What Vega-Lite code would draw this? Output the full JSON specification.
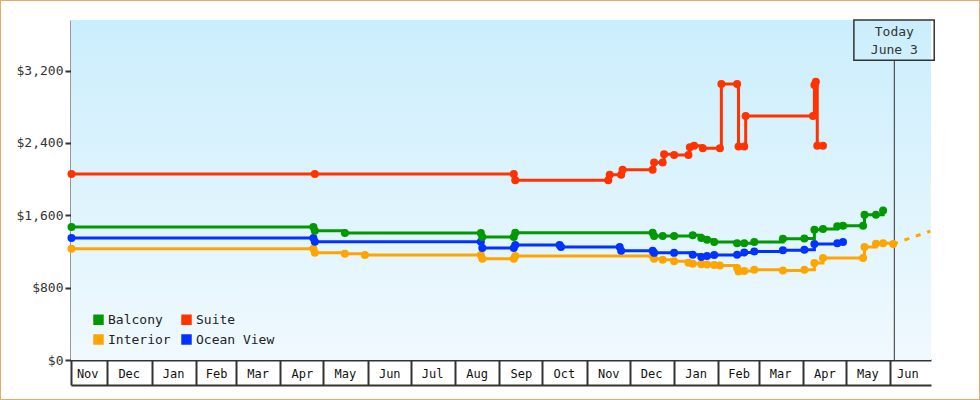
{
  "$schema": "https://vega.github.io/schema/vega-lite/v6.json",
  "width": 980,
  "height": 400,
  "autosize": {"type": "none"},
  "padding": 0,
  "background": "#FFFFFF",
  "config": {
    "font": "DejaVu Sans Mono",
    "view": {"stroke": "#E8A866", "strokeWidth": 2},
    "legend": {
      "orient": "none", "legendX": 92, "legendY": 313, "columns": 2, "direction": "horizontal", "title": null,
      "symbolType": "square", "symbolSize": 110, "symbolStrokeWidth": 0,
      "labelFontSize": 13, "labelColor": "#222222", "labelOffset": 3,
      "columnPadding": 9, "rowPadding": 6
    }
  },
  "datasets": {
    "prices": [
      {"date": "2017-11-06", "cabin": "Interior", "price": 1231},
      {"date": "2018-04-24", "cabin": "Interior", "price": 1231},
      {"date": "2018-04-25", "cabin": "Interior", "price": 1187},
      {"date": "2018-05-16", "cabin": "Interior", "price": 1176},
      {"date": "2018-05-30", "cabin": "Interior", "price": 1161},
      {"date": "2018-08-19", "cabin": "Interior", "price": 1161},
      {"date": "2018-08-20", "cabin": "Interior", "price": 1120},
      {"date": "2018-09-11", "cabin": "Interior", "price": 1120},
      {"date": "2018-09-12", "cabin": "Interior", "price": 1150},
      {"date": "2018-12-17", "cabin": "Interior", "price": 1150},
      {"date": "2018-12-18", "cabin": "Interior", "price": 1120},
      {"date": "2018-12-24", "cabin": "Interior", "price": 1110},
      {"date": "2019-01-01", "cabin": "Interior", "price": 1091},
      {"date": "2019-01-11", "cabin": "Interior", "price": 1075},
      {"date": "2019-01-14", "cabin": "Interior", "price": 1065},
      {"date": "2019-01-20", "cabin": "Interior", "price": 1060},
      {"date": "2019-01-24", "cabin": "Interior", "price": 1055},
      {"date": "2019-01-29", "cabin": "Interior", "price": 1050},
      {"date": "2019-02-02", "cabin": "Interior", "price": 1045},
      {"date": "2019-02-14", "cabin": "Interior", "price": 1018},
      {"date": "2019-02-15", "cabin": "Interior", "price": 980},
      {"date": "2019-02-19", "cabin": "Interior", "price": 985},
      {"date": "2019-02-26", "cabin": "Interior", "price": 999},
      {"date": "2019-03-18", "cabin": "Interior", "price": 991},
      {"date": "2019-04-02", "cabin": "Interior", "price": 997},
      {"date": "2019-04-09", "cabin": "Interior", "price": 1073},
      {"date": "2019-04-15", "cabin": "Interior", "price": 1128},
      {"date": "2019-05-13", "cabin": "Interior", "price": 1128},
      {"date": "2019-05-14", "cabin": "Interior", "price": 1250},
      {"date": "2019-05-22", "cabin": "Interior", "price": 1286},
      {"date": "2019-05-27", "cabin": "Interior", "price": 1290},
      {"date": "2019-06-03", "cabin": "Interior", "price": 1283},

      {"date": "2017-11-06", "cabin": "Ocean View", "price": 1349},
      {"date": "2018-04-24", "cabin": "Ocean View", "price": 1349},
      {"date": "2018-04-25", "cabin": "Ocean View", "price": 1308},
      {"date": "2018-08-19", "cabin": "Ocean View", "price": 1308},
      {"date": "2018-08-20", "cabin": "Ocean View", "price": 1239},
      {"date": "2018-09-11", "cabin": "Ocean View", "price": 1239},
      {"date": "2018-09-12", "cabin": "Ocean View", "price": 1272},
      {"date": "2018-10-13", "cabin": "Ocean View", "price": 1272},
      {"date": "2018-10-14", "cabin": "Ocean View", "price": 1250},
      {"date": "2018-11-24", "cabin": "Ocean View", "price": 1250},
      {"date": "2018-11-25", "cabin": "Ocean View", "price": 1209},
      {"date": "2018-12-17", "cabin": "Ocean View", "price": 1209},
      {"date": "2018-12-18", "cabin": "Ocean View", "price": 1185},
      {"date": "2019-01-01", "cabin": "Ocean View", "price": 1185},
      {"date": "2019-01-14", "cabin": "Ocean View", "price": 1165},
      {"date": "2019-01-20", "cabin": "Ocean View", "price": 1140},
      {"date": "2019-01-24", "cabin": "Ocean View", "price": 1150},
      {"date": "2019-01-29", "cabin": "Ocean View", "price": 1160},
      {"date": "2019-02-14", "cabin": "Ocean View", "price": 1165},
      {"date": "2019-02-19", "cabin": "Ocean View", "price": 1190},
      {"date": "2019-02-26", "cabin": "Ocean View", "price": 1201},
      {"date": "2019-03-18", "cabin": "Ocean View", "price": 1215},
      {"date": "2019-04-02", "cabin": "Ocean View", "price": 1220},
      {"date": "2019-04-09", "cabin": "Ocean View", "price": 1283},
      {"date": "2019-04-25", "cabin": "Ocean View", "price": 1290},
      {"date": "2019-04-29", "cabin": "Ocean View", "price": 1305},

      {"date": "2017-11-06", "cabin": "Balcony", "price": 1470},
      {"date": "2018-04-24", "cabin": "Balcony", "price": 1470},
      {"date": "2018-04-25", "cabin": "Balcony", "price": 1430},
      {"date": "2018-05-16", "cabin": "Balcony", "price": 1404},
      {"date": "2018-08-19", "cabin": "Balcony", "price": 1404},
      {"date": "2018-08-20", "cabin": "Balcony", "price": 1360},
      {"date": "2018-09-11", "cabin": "Balcony", "price": 1360},
      {"date": "2018-09-12", "cabin": "Balcony", "price": 1408},
      {"date": "2018-12-17", "cabin": "Balcony", "price": 1408},
      {"date": "2018-12-18", "cabin": "Balcony", "price": 1372},
      {"date": "2018-12-24", "cabin": "Balcony", "price": 1372},
      {"date": "2019-01-01", "cabin": "Balcony", "price": 1372},
      {"date": "2019-01-14", "cabin": "Balcony", "price": 1380},
      {"date": "2019-01-20", "cabin": "Balcony", "price": 1350},
      {"date": "2019-01-24", "cabin": "Balcony", "price": 1330},
      {"date": "2019-01-29", "cabin": "Balcony", "price": 1305},
      {"date": "2019-02-14", "cabin": "Balcony", "price": 1290},
      {"date": "2019-02-19", "cabin": "Balcony", "price": 1290},
      {"date": "2019-02-26", "cabin": "Balcony", "price": 1305},
      {"date": "2019-03-18", "cabin": "Balcony", "price": 1341},
      {"date": "2019-04-02", "cabin": "Balcony", "price": 1345},
      {"date": "2019-04-09", "cabin": "Balcony", "price": 1440},
      {"date": "2019-04-15", "cabin": "Balcony", "price": 1450},
      {"date": "2019-04-25", "cabin": "Balcony", "price": 1480},
      {"date": "2019-04-29", "cabin": "Balcony", "price": 1485},
      {"date": "2019-05-13", "cabin": "Balcony", "price": 1485},
      {"date": "2019-05-14", "cabin": "Balcony", "price": 1606},
      {"date": "2019-05-22", "cabin": "Balcony", "price": 1606},
      {"date": "2019-05-27", "cabin": "Balcony", "price": 1654},

      {"date": "2017-11-06", "cabin": "Suite", "price": 2056},
      {"date": "2018-04-25", "cabin": "Suite", "price": 2056},
      {"date": "2018-09-11", "cabin": "Suite", "price": 2056},
      {"date": "2018-09-12", "cabin": "Suite", "price": 1989},
      {"date": "2018-11-16", "cabin": "Suite", "price": 1989},
      {"date": "2018-11-17", "cabin": "Suite", "price": 2048},
      {"date": "2018-11-25", "cabin": "Suite", "price": 2048},
      {"date": "2018-11-26", "cabin": "Suite", "price": 2103},
      {"date": "2018-12-17", "cabin": "Suite", "price": 2103},
      {"date": "2018-12-18", "cabin": "Suite", "price": 2184},
      {"date": "2018-12-24", "cabin": "Suite", "price": 2184},
      {"date": "2018-12-25", "cabin": "Suite", "price": 2276},
      {"date": "2019-01-01", "cabin": "Suite", "price": 2268},
      {"date": "2019-01-11", "cabin": "Suite", "price": 2268},
      {"date": "2019-01-12", "cabin": "Suite", "price": 2354},
      {"date": "2019-01-15", "cabin": "Suite", "price": 2370},
      {"date": "2019-01-21", "cabin": "Suite", "price": 2343},
      {"date": "2019-02-02", "cabin": "Suite", "price": 2343},
      {"date": "2019-02-03", "cabin": "Suite", "price": 3053},
      {"date": "2019-02-14", "cabin": "Suite", "price": 3053},
      {"date": "2019-02-15", "cabin": "Suite", "price": 2360},
      {"date": "2019-02-19", "cabin": "Suite", "price": 2360},
      {"date": "2019-02-20", "cabin": "Suite", "price": 2699},
      {"date": "2019-04-08", "cabin": "Suite", "price": 2699},
      {"date": "2019-04-09", "cabin": "Suite", "price": 3040},
      {"date": "2019-04-10", "cabin": "Suite", "price": 3078},
      {"date": "2019-04-11", "cabin": "Suite", "price": 2368},
      {"date": "2019-04-15", "cabin": "Suite", "price": 2368}
    ],
    "forecast": [
      {"date": "2019-06-03", "price": 1283},
      {"date": "2019-06-29", "price": 1425}
    ],
    "today": [
      {"date": "2019-06-03T20:00Z", "label": "Today"}
    ]
  },
  "resolve": {"axis": {"x": "independent", "y": "independent"}},
  "layer": [
    {
      "data": {"values": [{}]},
      "mark": {
        "type": "rect",
        "fill": {
          "gradient": "linear", "x1": 0, "y1": 0, "x2": 0, "y2": 1,
          "stops": [
            {"offset": 0, "color": "#CBEEFC"},
            {"offset": 1, "color": "#F0F9FE"}
          ]
        }
      },
      "encoding": {
        "x": {
          "datum": {"year": 2017, "month": 11, "date": 5, "hours": 16, "utc": true},
          "type": "temporal",
          "scale": {"type": "utc", "domain": [{"year": 2017, "month": 11, "date": 5, "hours": 16, "utc": true}, {"year": 2019, "month": 6, "date": 29, "hours": 11, "utc": true}], "range": [71, 931], "nice": false},
          "axis": {
            "orient": "bottom", "offset": -40, "title": null, "grid": false,
            "labels": false, "ticks": true, "tickSize": 25, "tickWidth": 2, "tickColor": "#333333",
            "domain": true, "domainWidth": 2, "domainColor": "#333333",
            "values": [
              {"year": 2017, "month": 11, "date": 5, "hours": 16, "utc": true},
              {"year": 2017, "month": 12, "date": 1, "utc": true},
              {"year": 2018, "month": 1, "date": 1, "utc": true},
              {"year": 2018, "month": 2, "date": 1, "utc": true},
              {"year": 2018, "month": 3, "date": 1, "utc": true},
              {"year": 2018, "month": 4, "date": 1, "utc": true},
              {"year": 2018, "month": 5, "date": 1, "utc": true},
              {"year": 2018, "month": 6, "date": 1, "utc": true},
              {"year": 2018, "month": 7, "date": 1, "utc": true},
              {"year": 2018, "month": 8, "date": 1, "utc": true},
              {"year": 2018, "month": 9, "date": 1, "utc": true},
              {"year": 2018, "month": 10, "date": 1, "utc": true},
              {"year": 2018, "month": 11, "date": 1, "utc": true},
              {"year": 2018, "month": 12, "date": 1, "utc": true},
              {"year": 2019, "month": 1, "date": 1, "utc": true},
              {"year": 2019, "month": 2, "date": 1, "utc": true},
              {"year": 2019, "month": 3, "date": 1, "utc": true},
              {"year": 2019, "month": 4, "date": 1, "utc": true},
              {"year": 2019, "month": 5, "date": 1, "utc": true},
              {"year": 2019, "month": 6, "date": 1, "utc": true}
            ]
          }
        },
        "x2": {"datum": {"year": 2019, "month": 6, "date": 29, "hours": 11, "utc": true}},
        "y": {
          "datum": 0, "type": "quantitative",
          "scale": {"domain": [0, 3760], "range": [360, 20], "nice": false, "zero": false},
          "axis": {
            "orient": "left", "offset": -71, "title": null, "grid": false,
            "values": [0, 800, 1600, 2400, 3200], "format": "$,d",
            "tickSize": 6, "tickWidth": 2, "tickColor": "#333333",
            "domainWidth": 2, "domainColor": "#333333",
            "labelFontSize": 13, "labelColor": "#333333", "labelPadding": 2
          }
        },
        "y2": {"datum": 3760}
      }
    },
    {
      "data": {"name": "today"},
      "mark": {"type": "rule", "color": "#333333", "strokeWidth": 1},
      "encoding": {
        "x": {
          "field": "date", "type": "temporal",
          "scale": {"type": "utc", "domain": [{"year": 2017, "month": 11, "date": 5, "hours": 16, "utc": true}, {"year": 2019, "month": 6, "date": 29, "hours": 11, "utc": true}], "range": [71, 931], "nice": false},
          "axis": {
            "orient": "bottom", "offset": -15, "title": null, "grid": false,
            "ticks": false, "tickSize": 0, "format": "%b",
            "domain": true, "domainWidth": 2, "domainColor": "#333333",
            "labelPadding": -12, "labelBaseline": "middle", "labelFontSize": 12, "labelColor": "#111111",
            "labelFlush": false, "labelOverlap": false, "labelBound": false,
            "values": [
              {"year": 2017, "month": 11, "date": 17, "utc": true},
              {"year": 2017, "month": 12, "date": 16, "utc": true},
              {"year": 2018, "month": 1, "date": 16, "utc": true},
              {"year": 2018, "month": 2, "date": 15, "utc": true},
              {"year": 2018, "month": 3, "date": 16, "utc": true},
              {"year": 2018, "month": 4, "date": 16, "utc": true},
              {"year": 2018, "month": 5, "date": 16, "utc": true},
              {"year": 2018, "month": 6, "date": 16, "utc": true},
              {"year": 2018, "month": 7, "date": 16, "utc": true},
              {"year": 2018, "month": 8, "date": 16, "utc": true},
              {"year": 2018, "month": 9, "date": 16, "utc": true},
              {"year": 2018, "month": 10, "date": 16, "utc": true},
              {"year": 2018, "month": 11, "date": 16, "utc": true},
              {"year": 2018, "month": 12, "date": 16, "utc": true},
              {"year": 2019, "month": 1, "date": 16, "utc": true},
              {"year": 2019, "month": 2, "date": 15, "utc": true},
              {"year": 2019, "month": 3, "date": 16, "utc": true},
              {"year": 2019, "month": 4, "date": 16, "utc": true},
              {"year": 2019, "month": 5, "date": 16, "utc": true},
              {"year": 2019, "month": 6, "date": 13, "utc": true}
            ]
          }
        },
        "y": {"datum": 0, "type": "quantitative", "scale": {"domain": [0, 3760], "range": [360, 20], "nice": false, "zero": false}, "axis": null},
        "y2": {"datum": 3314}
      }
    },
    {
      "data": {"name": "prices"},
      "mark": {"type": "line", "interpolate": "step-after", "strokeWidth": 3},
      "encoding": {
        "x": {"field": "date", "type": "temporal", "scale": {"type": "utc", "domain": [{"year": 2017, "month": 11, "date": 5, "hours": 16, "utc": true}, {"year": 2019, "month": 6, "date": 29, "hours": 11, "utc": true}], "range": [71, 931], "nice": false}, "axis": null},
        "y": {"field": "price", "type": "quantitative", "scale": {"domain": [0, 3760], "range": [360, 20], "nice": false, "zero": false}, "axis": null},
        "color": {"field": "cabin", "type": "nominal", "scale": {"domain": ["Balcony", "Suite", "Interior", "Ocean View"], "range": ["#009900", "#FF3300", "#FFA500", "#0033FF"]}}
      }
    },
    {
      "data": {"name": "prices"},
      "mark": {"type": "point", "filled": true, "shape": "circle", "size": 64, "opacity": 1},
      "encoding": {
        "x": {"field": "date", "type": "temporal", "scale": {"type": "utc", "domain": [{"year": 2017, "month": 11, "date": 5, "hours": 16, "utc": true}, {"year": 2019, "month": 6, "date": 29, "hours": 11, "utc": true}], "range": [71, 931], "nice": false}, "axis": null},
        "y": {"field": "price", "type": "quantitative", "scale": {"domain": [0, 3760], "range": [360, 20], "nice": false, "zero": false}, "axis": null},
        "color": {
          "field": "cabin", "type": "nominal",
          "scale": {"domain": ["Balcony", "Suite", "Interior", "Ocean View"], "range": ["#009900", "#FF3300", "#FFA500", "#0033FF"]}
        }
      }
    },
    {
      "data": {"name": "forecast"},
      "mark": {"type": "line", "color": "#FFA500", "strokeWidth": 3, "strokeDash": [5, 7]},
      "encoding": {
        "x": {"field": "date", "type": "temporal", "scale": {"type": "utc", "domain": [{"year": 2017, "month": 11, "date": 5, "hours": 16, "utc": true}, {"year": 2019, "month": 6, "date": 29, "hours": 11, "utc": true}], "range": [71, 931], "nice": false}, "axis": null},
        "y": {"field": "price", "type": "quantitative", "scale": {"domain": [0, 3760], "range": [360, 20], "nice": false, "zero": false}, "axis": null}
      }
    },
    {
      "data": {"name": "today"},
      "mark": {"type": "rect", "filled": false, "stroke": "#333333", "strokeWidth": 1.5},
      "encoding": {
        "x": {"datum": {"year": 2019, "month": 5, "date": 6, "hours": 14, "utc": true}, "type": "temporal", "scale": {"type": "utc", "domain": [{"year": 2017, "month": 11, "date": 5, "hours": 16, "utc": true}, {"year": 2019, "month": 6, "date": 29, "hours": 11, "utc": true}], "range": [71, 931], "nice": false}, "axis": null},
        "x2": {"datum": {"year": 2019, "month": 7, "date": 1, "hours": 17, "utc": true}},
        "y": {"datum": 3314, "type": "quantitative", "scale": {"domain": [0, 3760], "range": [360, 20], "nice": false, "zero": false}, "axis": null},
        "y2": {"datum": 3760}
      }
    },
    {
      "data": {"name": "today"},
      "mark": {"type": "text", "align": "center", "baseline": "middle", "fontSize": 13, "color": "#333333", "lineHeight": 17.5},
      "encoding": {
        "x": {"field": "date", "type": "temporal", "scale": {"type": "utc", "domain": [{"year": 2017, "month": 11, "date": 5, "hours": 16, "utc": true}, {"year": 2019, "month": 6, "date": 29, "hours": 11, "utc": true}], "range": [71, 931], "nice": false}, "axis": null},
        "y": {"datum": 3624, "type": "quantitative", "scale": {"domain": [0, 3760], "range": [360, 20], "nice": false, "zero": false}, "axis": null},
        "text": {"value": ["Today", "June 3"]}
      }
    }
  ]
}
